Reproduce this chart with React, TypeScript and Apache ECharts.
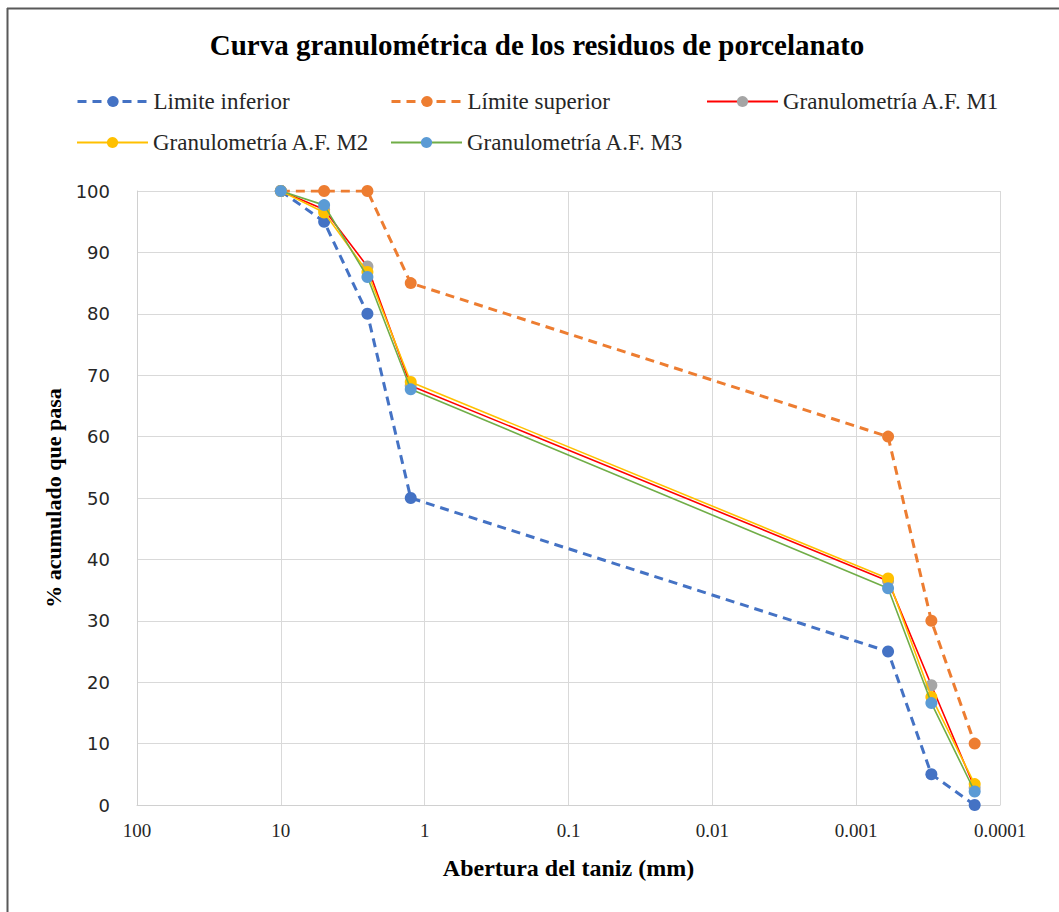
import React, { useEffect, useRef } from "react";
import * as echarts from "echarts";

const titleText = "Curva granulométrica de los residuos de porcelanato";
const xAxisName = "Abertura del taniz (mm)";
const yAxisName = "% acumulado que pasa";

const aperture = [10, 5, 2.5, 1.25, 0.0006, 0.0003, 0.00015];
const seriesNames = [
  "Limite inferior",
  "Límite superior",
  "Granulometría A.F. M1",
  "Granulometría A.F. M2",
  "Granulometría A.F. M3",
];
const limiteInferior = [100, 95, 80, 50, 25, 5, 0];
const limiteSuperior = [100, 100, 100, 85, 60, 30, 10];
const m1 = [100, 97, 87.7, 68.3, 36.5, 19.5, 2.8];
const m2 = [100, 96.5, 86.8, 68.9, 36.9, 17.6, 3.4];
const m3 = [100, 97.7, 86.0, 67.7, 35.3, 16.6, 2.2];

const lineColors = ["#4472C4", "#ED7D31", "#FF0000", "#FFC000", "#70AD47"];
const markerColors = ["#4472C4", "#ED7D31", "#A5A5A5", "#FFC000", "#5B9BD5"];

const SERIF = "'Liberation Serif', 'Times New Roman', serif";

export default function App() {
  const ref = useRef<HTMLDivElement>(null);
  useEffect(() => {
    if (!ref.current) return;
    const chart = echarts.init(ref.current, undefined, { renderer: "svg" });
    const values = [limiteInferior, limiteSuperior, m1, m2, m3];
    const series = values.map((vals, i) => ({
      name: seriesNames[i],
      type: "line",
      data: aperture.map((x, j) => [x, vals[j]]),
      symbol: "circle",
      symbolSize: 12,
      itemStyle: { color: markerColors[i], borderWidth: 0 },
      lineStyle: {
        color: lineColors[i],
        width: i < 2 ? 3 : 1.6,
        type: i < 2 ? [9, 6] : "solid",
      },
      z: 2 + i,
    }));
    const legendPos = [
      [76, 90],
      [390, 90],
      [706, 90],
      [76, 131],
      [390, 131],
    ];
    const legends = seriesNames.map((n, i) => ({
      data: [n],
      left: legendPos[i][0],
      top: legendPos[i][1],
      padding: 0,
      itemWidth: 71,
      itemHeight: 14,
      itemGap: 0,
      lineStyle: { width: i < 2 ? 3 : 2 },
      textStyle: { fontFamily: SERIF, fontSize: 23, color: "#262626" },
    }));
    chart.setOption({
      animation: false,
      backgroundColor: "#ffffff",
      legend: legends,
      grid: { left: 137, right: 59, top: 191, bottom: 107 },
      xAxis: {
        type: "log",
        logBase: 10,
        min: 0.0001,
        max: 100,
        inverse: true,
        splitNumber: 6,
        name: xAxisName,
        nameLocation: "middle",
        nameGap: 51,
        nameTextStyle: {
          fontFamily: SERIF,
          fontWeight: "bold",
          fontSize: 24,
          color: "#000",
        },
        axisLine: { show: true, lineStyle: { color: "#d0d0d0", width: 1 } },
        axisTick: { show: false },
        splitLine: { show: true, lineStyle: { color: "#d9d9d9", width: 1 } },
        minorSplitLine: { show: false },
        axisLabel: {
          margin: 16,
          fontFamily: SERIF,
          fontSize: 19,
          color: "#262626",
          formatter: (v: number) => {
            const e = Math.round(Math.log10(v));
            return e >= 0 ? String(Math.pow(10, e)) : Math.pow(10, e).toFixed(-e);
          },
        },
      },
      yAxis: {
        type: "value",
        min: 0,
        max: 100,
        interval: 10,
        name: yAxisName,
        nameLocation: "middle",
        nameRotate: 90,
        nameGap: 72,
        nameTextStyle: {
          fontFamily: SERIF,
          fontWeight: "bold",
          fontSize: 22,
          color: "#000",
        },
        axisLine: { show: true, lineStyle: { color: "#d0d0d0", width: 1 } },
        axisTick: { show: false },
        splitLine: { show: true, lineStyle: { color: "#d9d9d9", width: 1 } },
        axisLabel: {
          margin: 27,
          fontFamily: "'DejaVu Sans', Verdana, sans-serif",
          fontSize: 18,
          color: "#262626",
        },
      },
      graphic: [
        {
          type: "line",
          shape: { x1: 7, y1: 8.5, x2: 1059, y2: 8.5 },
          style: { stroke: "#595959", lineWidth: 2 },
        },
        {
          type: "line",
          shape: { x1: 7.5, y1: 8, x2: 7.5, y2: 912 },
          style: { stroke: "#595959", lineWidth: 2 },
        },
        {
          type: "text",
          x: 537,
          y: 45,
          style: {
            text: titleText,
            fontFamily: SERIF,
            fontWeight: "bold",
            fontSize: 29,
            fill: "#000",
            textAlign: "center",
            textVerticalAlign: "middle",
          },
        },
      ],
      series,
    });
    return () => chart.dispose();
  }, []);
  return (
    <div
      ref={ref}
      style={{ position: "absolute", left: 0, top: 0, width: 1059, height: 912 }}
    />
  );
}
